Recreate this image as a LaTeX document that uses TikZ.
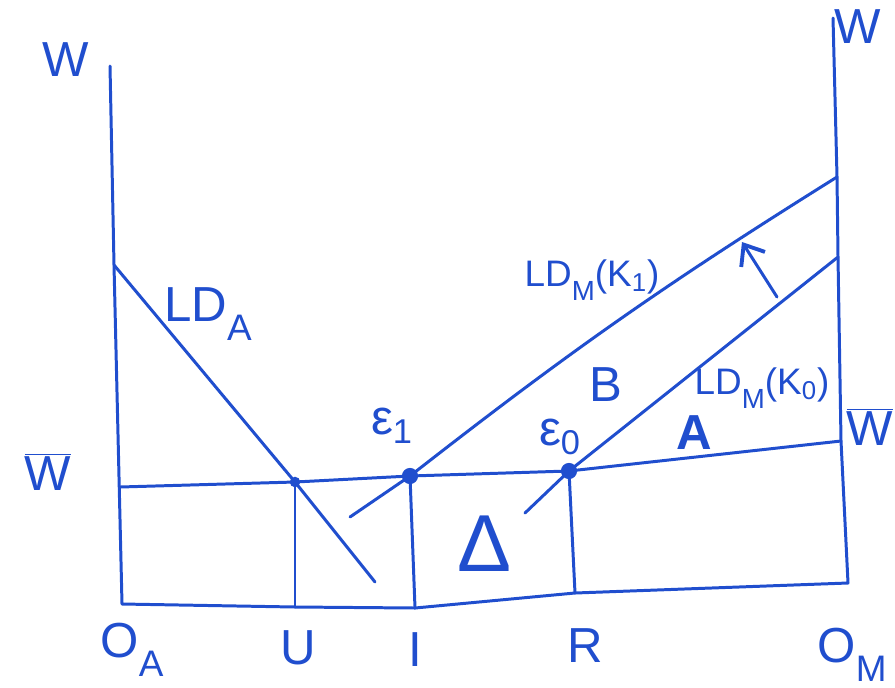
\documentclass[tikz,border=0pt]{standalone}
\usepackage{fontspec}
\setmainfont{Liberation Sans}
\usetikzlibrary{arrows.meta}
\definecolor{ink}{RGB}{32,78,206}
\newcommand{\lowidx}[1]{\raisebox{-0.38em}{\scalebox{0.75}{#1}}}

\begin{document}
\begin{tikzpicture}[x=0.02cm, y=-0.02cm,
            curve/.style={draw=ink, line width=1.7pt, line cap=round, line join=round},
            lbl/.style={text=ink, inner sep=0pt, font=\fontsize{28}{32}\selectfont},
            smalllbl/.style={lbl, font=\fontsize{21}{24}\selectfont}
        ]
            \useasboundingbox (0,0) rectangle (895,687);

            % Axes
            \coordinate (OA) at (122,604);
            \coordinate (Atop) at (110,66);
            \coordinate (Ajoin) at (114,265);
            \coordinate (Mtop) at (833,18);
            \coordinate (K1e) at (837,177);
            \coordinate (K0e) at (838,257);
            \coordinate (WR) at (841,441);
            \coordinate (OM) at (848,583);
            \coordinate (Ub) at (295,607);
            \coordinate (Ib) at (415,608);
            \coordinate (Rb) at (575,593);

            % Points on the wage line
            \coordinate (WL) at (120,487);
            \coordinate (U) at (295,482);
            \coordinate (E1) at (410,476);
            \coordinate (E0) at (569,471);

            % Curve ends
            \coordinate (LAe) at (375,582);
            \coordinate (K1s) at (350,517);
            \coordinate (K0s) at (525,513);
            \coordinate (Atail) at (777,297);
            \coordinate (Ahead) at (742,242);

            \draw[curve] (Atop) -- (Ajoin) -- (OA) -- (Ub) -- (Ib) -- (Rb) -- (OM)
                -- (WR) -- (K0e) -- (K1e) -- (Mtop);
            \draw[curve] (WL) -- (U) -- (E1) -- (E0) -- (WR);
            \draw[curve] (Ajoin) -- (U) -- (LAe);
            \draw[curve] (K1s) -- (E1) to[bend left=3] (K1e);
            \draw[curve] (K0s) -- (E0) -- (K0e);
            \draw[curve] (U) -- (Ub);
            \draw[curve] (E1) -- (Ib);
            \draw[curve] (E0) -- (Rb);
            \draw[curve, -{Straight Barb[length=10pt, width=16pt, line width=2.2pt]}] (Atail) -- (Ahead);

            \fill[ink] (U) circle (3pt);
            \foreach \p in {E1,E0}
                \fill[ink] (\p) circle (4.6pt);

            % Labels
            \node[lbl] (wA) at (66,60) {W};
            \node[lbl] (wM) at (858,27) {W};
            \node[lbl] (wbarA) at (48,472) {$\overline{\mbox{W}}$};
            \node[lbl] (wbarM) at (870,427) {$\overline{\mbox{W}}$};
            \node[lbl] (oA) at (132,650) {O\lowidx{A}};
            \node[lbl] (oM) at (852,655) {O\lowidx{M}};
            \node[lbl] (uL) at (298,648) {U};
            \node[lbl] (iL) at (415,650) {I};
            \node[lbl] (rL) at (585,646) {R};
            \node[lbl] (ldA) at (208,314) {LD\lowidx{A}};
            \node[smalllbl] (ldK1) at (592,280) {LD\lowidx{M}(K\textsubscript{1})};
            \node[smalllbl] (ldK0) at (762,388) {LD\lowidx{M}(K\textsubscript{0})};
            \node[lbl] (bL) at (606,385) {B};
            \node[lbl, font=\bfseries\fontsize{28}{32}\selectfont] (aL) at (694,433) {A};
            \node[lbl] (e1L) at (392,426) {ε\textsubscript{1}};
            \node[lbl] (e0L) at (560,437) {ε\textsubscript{0}};
            \node[lbl, font=\fontsize{46}{50}\selectfont] (dL) at (484,544) {Δ};
        \end{tikzpicture}
\end{document}
